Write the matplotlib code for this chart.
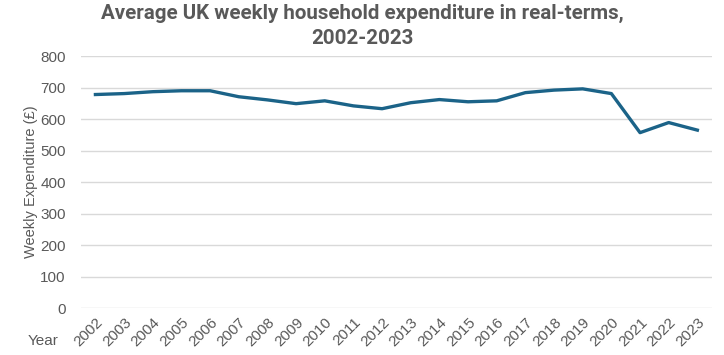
import matplotlib.pyplot as plt
import numpy as np

years = [str(y) for y in range(2002, 2024)]
spend = [678, 681, 687, 690, 690, 671, 661, 649, 658, 642, 633,
         652, 662, 655, 658, 684, 692, 696, 681, 557, 589, 565]

grey = '#595959'
plt.rcParams['font.family'] = ['Liberation Sans', 'DejaVu Sans']

fig = plt.figure(figsize=(7.24, 3.55), dpi=100)
ax = fig.add_axes([0.112, 0.132, 0.871, 0.710])
x = np.arange(len(years))
ax.plot(x, spend, color='#1b6388', lw=2.4, solid_joinstyle='round')

ax.set_xlim(-0.5, len(years) - 0.5)
ax.set_ylim(0, 800)
ax.set_yticks(range(0, 801, 100))
ax.yaxis.grid(True, color='#d9d9d9', lw=1)
ax.set_axisbelow(True)
for s in ax.spines.values():
    s.set_visible(False)
ax.tick_params(axis='both', length=0, colors=grey, labelsize=11)
ax.tick_params(axis='y', pad=11)
ax.set_xticks(x)
ax.set_xticklabels(years, rotation=45, ha='right', rotation_mode='anchor')
ax.tick_params(axis='x', pad=5)

ax.set_ylabel('Weekly Expenditure (£)', color=grey, fontsize=10.5, labelpad=2)
fig.text(0.06, 0.027, 'Year', color=grey, fontsize=11, ha='center')
fig.suptitle('Average UK weekly household expenditure in real-terms,\n2002-2023',
             color=grey, fontsize=14.8, fontweight='bold', y=0.99,
             linespacing=1.45, family=['Roboto', 'DejaVu Sans'])

plt.savefig('out.png', dpi=100)
